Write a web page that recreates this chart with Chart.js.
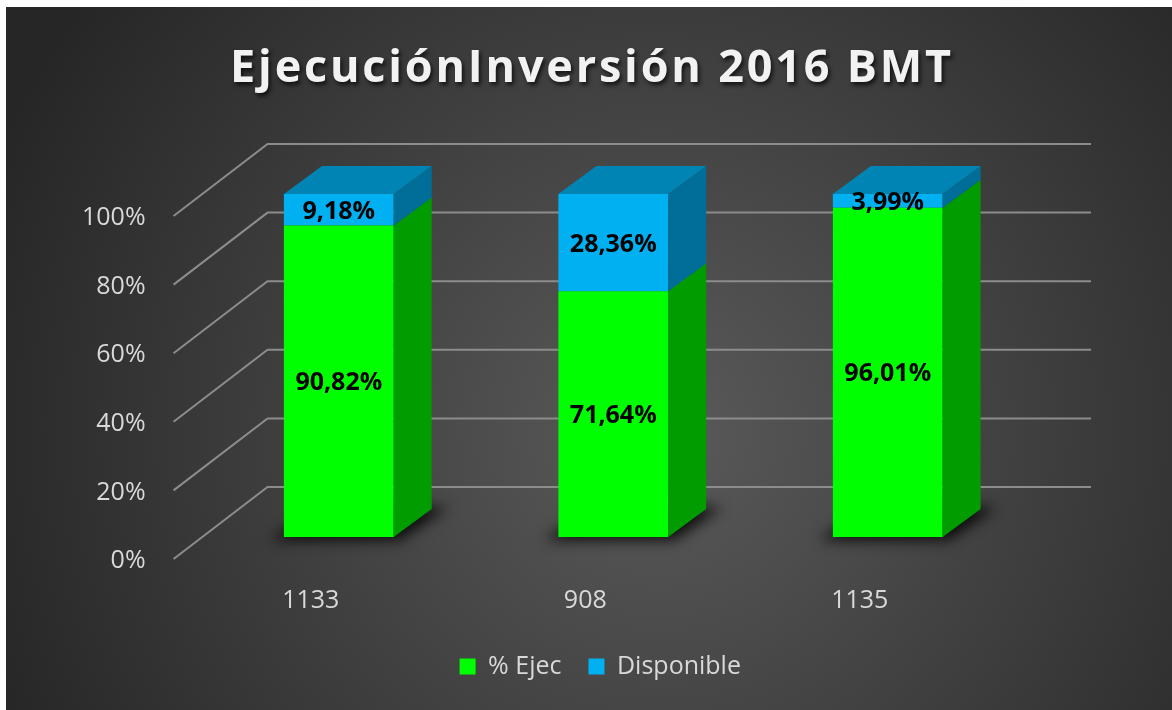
<!DOCTYPE html>
<html>
<head>
<meta charset="utf-8">
<title>Ejecución Inversión 2016 BMT</title>
<script src="https://cdn.jsdelivr.net/npm/chart.js@4.4.1/dist/chart.umd.min.js"></script>
<style>
  html, body { margin: 0; padding: 0; background: #fff; }
  canvas { display: block; }
</style>
</head>
<body>
<canvas id="inversionChart" width="1172" height="710"></canvas>
<script>
// project codes and execution split (percent of budget)
const proyectos = ['1133', '908', '1135'];
const ejecutado = [90.82, 71.64, 96.01];
const disponible = [9.18, 28.36, 3.99];
const yTicks = [0, 20, 40, 60, 80, 100];

const FONT = '"Open Sans", "DejaVu Sans", sans-serif';
const TEXT_COLOR = '#d9d9d9';
// 3D look: offset of the back edge of each column, and of the walls
const DEPTH = { dx: 38, dy: -28 };
const WALL = { frontX: -28, frontY: 22, backX: 66, backY: -50 };
const LEGEND_SHIFT = -13;

const fmt = v => v.toFixed(2).replace('.', ',') + '%';

function poly(ctx, pts) {
    ctx.beginPath();
    ctx.moveTo(pts[0][0], pts[0][1]);
    pts.slice(1).forEach(p => ctx.lineTo(p[0], p[1]));
    ctx.closePath();
    ctx.fill();
}

// dark panel with a soft light in the middle
const fondo = {
    id: 'fondo',
    beforeDraw(chart) {
        const { ctx, width, height } = chart;
        ctx.save();
        ctx.fillStyle = '#fff';
        ctx.fillRect(0, 0, width, height);
        const g = ctx.createRadialGradient(660, 430, 0, 660, 430, 720);
        g.addColorStop(0, '#5a5a5a');
        g.addColorStop(1, '#262626');
        ctx.fillStyle = g;
        ctx.fillRect(6, 7, width - 6, height - 7);
        ctx.restore();
    },
    afterLayout(chart) {
        // legend sits a little left of the plot centre
        chart.legend.left += LEGEND_SHIFT;
        chart.legend.right += LEGEND_SHIFT;
    }
};

// side wall + back wall gridlines, and floor shadows under the columns
const paredes = {
    id: 'paredes',
    beforeDatasetsDraw(chart) {
        const { ctx, chartArea: a, scales: { y } } = chart;
        ctx.save();
        ctx.strokeStyle = '#8c8c8c';
        ctx.lineWidth = 2;
        y.ticks.forEach(t => {
            const py = y.getPixelForValue(t.value);
            ctx.beginPath();
            ctx.moveTo(a.left + WALL.frontX, py + WALL.frontY);
            ctx.lineTo(a.left + WALL.backX, py + WALL.backY);
            ctx.lineTo(a.right + WALL.backX, py + WALL.backY);
            ctx.stroke();
        });

        ctx.filter = 'blur(7px)';
        ctx.fillStyle = 'rgba(0,0,0,0.85)';
        chart.getDatasetMeta(0).data.forEach(bar => {
            const x0 = bar.x - bar.width / 2, x1 = bar.x + bar.width / 2, b = bar.base;
            poly(ctx, [
                [x0 - 14, b + 3], [x1 + 6, b + 3],
                [x1 + DEPTH.dx + 16, b + DEPTH.dy - 2], [x0 + DEPTH.dx, b + DEPTH.dy - 2]
            ]);
        });
        ctx.restore();
    }
};

// side and top faces of each column plus the value labels
const cubos = {
    id: 'cubos',
    afterDatasetsDraw(chart) {
        const { ctx } = chart;
        const n = chart.data.datasets.length;
        ctx.save();
        chart.data.datasets.forEach((ds, i) => {
            chart.getDatasetMeta(i).data.forEach(bar => {
                const x0 = bar.x - bar.width / 2, x1 = bar.x + bar.width / 2;
                const top = bar.y, bottom = bar.base;
                ctx.fillStyle = ds.sideColor;
                poly(ctx, [
                    [x1, bottom], [x1 + DEPTH.dx, bottom + DEPTH.dy],
                    [x1 + DEPTH.dx, top + DEPTH.dy], [x1, top]
                ]);
                if (i === n - 1) {
                    ctx.fillStyle = ds.topColor;
                    poly(ctx, [
                        [x0, top], [x1, top],
                        [x1 + DEPTH.dx, top + DEPTH.dy], [x0 + DEPTH.dx, top + DEPTH.dy]
                    ]);
                }
            });
        });

        ctx.fillStyle = '#000';
        ctx.font = 'bold 25px ' + FONT;
        ctx.textAlign = 'center';
        ctx.textBaseline = 'middle';
        chart.data.datasets.forEach((ds, i) => {
            chart.getDatasetMeta(i).data.forEach((bar, j) => {
                ctx.fillText(fmt(ds.data[j]), bar.x, (bar.y + bar.base) / 2 + 2);
            });
        });
        ctx.restore();
    }
};

const titulo = {
    id: 'titulo',
    afterDraw(chart) {
        const { ctx } = chart;
        ctx.save();
        ctx.font = 'bold 45px ' + FONT;
        ctx.letterSpacing = '2.8px';
        ctx.textAlign = 'center';
        ctx.textBaseline = 'alphabetic';
        ctx.shadowColor = 'rgba(0,0,0,0.7)';
        ctx.shadowOffsetX = 2;
        ctx.shadowOffsetY = 3;
        ctx.shadowBlur = 4;
        ctx.fillStyle = '#f2f2f2';
        ctx.fillText('EjecuciónInversión 2016 BMT', 592, 82);
        ctx.restore();
    }
};

new Chart(document.getElementById('inversionChart'), {
    type: 'bar',
    data: {
        labels: proyectos,
        datasets: [
            { label: '% Ejec', data: ejecutado, backgroundColor: '#00ff00', sideColor: '#009c00', topColor: '#00c800' },
            { label: 'Disponible', data: disponible, backgroundColor: '#00b0f0', sideColor: '#006e98', topColor: '#0084b4' }
        ]
    },
    options: {
        responsive: false,
        animation: false,
        layout: { padding: { top: 194, left: 26, right: 147, bottom: 21 } },
        datasets: { bar: { barPercentage: 0.4, categoryPercentage: 1, borderWidth: 0 } },
        scales: {
            x: {
                stacked: true,
                grid: { display: false },
                border: { display: false },
                ticks: { color: TEXT_COLOR, font: { family: FONT, size: 25 }, padding: 41, labelOffset: -28 },
                afterFit(s) { s.height = 90; }
            },
            y: {
                stacked: true,
                min: 0,
                max: 100,
                grid: { display: false, drawTicks: false },
                border: { display: false },
                afterBuildTicks(s) { s.ticks = yTicks.map(v => ({ value: v })); },
                ticks: {
                    color: TEXT_COLOR,
                    font: { family: FONT, size: 25 },
                    padding: 56,
                    labelOffset: 24,
                    callback: v => v + '%'
                }
            }
        },
        plugins: {
            legend: {
                position: 'bottom',
                fullSize: false,
                labels: { color: TEXT_COLOR, font: { family: FONT, size: 25 }, boxWidth: 16, boxHeight: 16, padding: 27 }
            },
            tooltip: { enabled: false },
            title: { display: false }
        }
    },
    plugins: [fondo, paredes, cubos, titulo]
});
</script>
</body>
</html>
